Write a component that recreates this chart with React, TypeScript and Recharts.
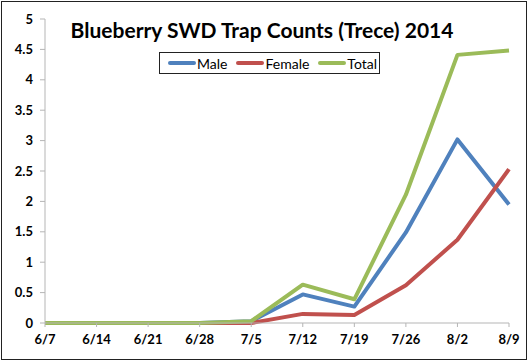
import React from "react";
import { LineChart, Line, XAxis, YAxis } from "recharts";

const categories = ["6/7", "6/14", "6/21", "6/28", "7/5", "7/12", "7/19", "7/26", "8/2", "8/9"];
const male = [0, 0, 0, 0, 0.03, 0.47, 0.27, 1.49, 3.02, 1.95];
const female = [0, 0, 0, 0, 0, 0.15, 0.13, 0.62, 1.37, 2.53];
const total = [0, 0, 0, 0, 0.03, 0.63, 0.39, 2.11, 4.41, 4.48];
const yTicks = [0, 0.5, 1, 1.5, 2, 2.5, 3, 3.5, 4, 4.5, 5];

const data = categories.map((c, i) => ({ date: c, Male: male[i], Female: female[i], Total: total[i] }));

const series = [
  { key: "Male", color: "#4f81bd" },
  { key: "Female", color: "#c0504d" },
  { key: "Total", color: "#9bbb59" },
];

const FONT = "Lato, 'Open Sans', sans-serif";

const LegendBox = () => (
  <div
    style={{
      position: "absolute",
      left: 159,
      top: 52,
      width: 221,
      display: "flex",
      alignItems: "center",
      border: "1px solid #222",
      background: "#fff",
      padding: "0 4px 0 8px",
      fontFamily: FONT,
      fontSize: 14,
      color: "#000",
      height: 22,
      boxSizing: "border-box",
    }}
  >
    {series.map((s, i) => (
      <div key={s.key} style={{ display: "flex", alignItems: "center", marginRight: i < 2 ? 9 : 0 }}>
        <div style={{ width: 28, height: 4, borderRadius: 2, background: s.color }} />
        <span style={{ marginLeft: 1 }}>{s.key}</span>
      </div>
    ))}
  </div>
);

export default function App() {
  return (
    <div style={{ position: "absolute", left: 0, top: 0, width: 529, height: 362, background: "#fff" }}>
      <LineChart width={529} height={362} data={data} margin={{ top: 19, right: 20, left: 0, bottom: 0 }}>
        <XAxis
          dataKey="date"
          height={39}
          tickSize={4}
          tickMargin={8}
          axisLine={{ stroke: "#b5b5b5" }}
          tickLine={{ stroke: "#b5b5b5" }}
          tick={{ fontFamily: FONT, fontWeight: 700, fontSize: 13, fill: "#000" }}
          interval={0}
        />
        <YAxis
          width={45}
          domain={[0, 5]}
          ticks={yTicks}
          tickSize={5}
          tickMargin={7}
          axisLine={{ stroke: "#b5b5b5" }}
          tickLine={{ stroke: "#b5b5b5" }}
          tick={{ fontFamily: FONT, fontWeight: 700, fontSize: 13, fill: "#000" }}
        />
        {series.map((s) => (
          <Line
            key={s.key}
            dataKey={s.key}
            stroke={s.color}
            strokeWidth={4}
            dot={false}
            isAnimationActive={false}
            strokeLinejoin="round"
          />
        ))}
      </LineChart>
      <div
        style={{
          position: "absolute",
          left: 1,
          top: 1,
          width: 526,
          height: 359,
          border: "1.5px solid #222",
          boxSizing: "border-box",
          pointerEvents: "none",
        }}
      />
      <div
        style={{
          position: "absolute",
          left: 0,
          top: 17,
          width: 524,
          textAlign: "center",
          fontFamily: FONT,
          fontWeight: 700,
          fontSize: 21,
          color: "#000",
        }}
      >
        Blueberry SWD Trap Counts (Trece) 2014
      </div>
      <LegendBox />
    </div>
  );
}
